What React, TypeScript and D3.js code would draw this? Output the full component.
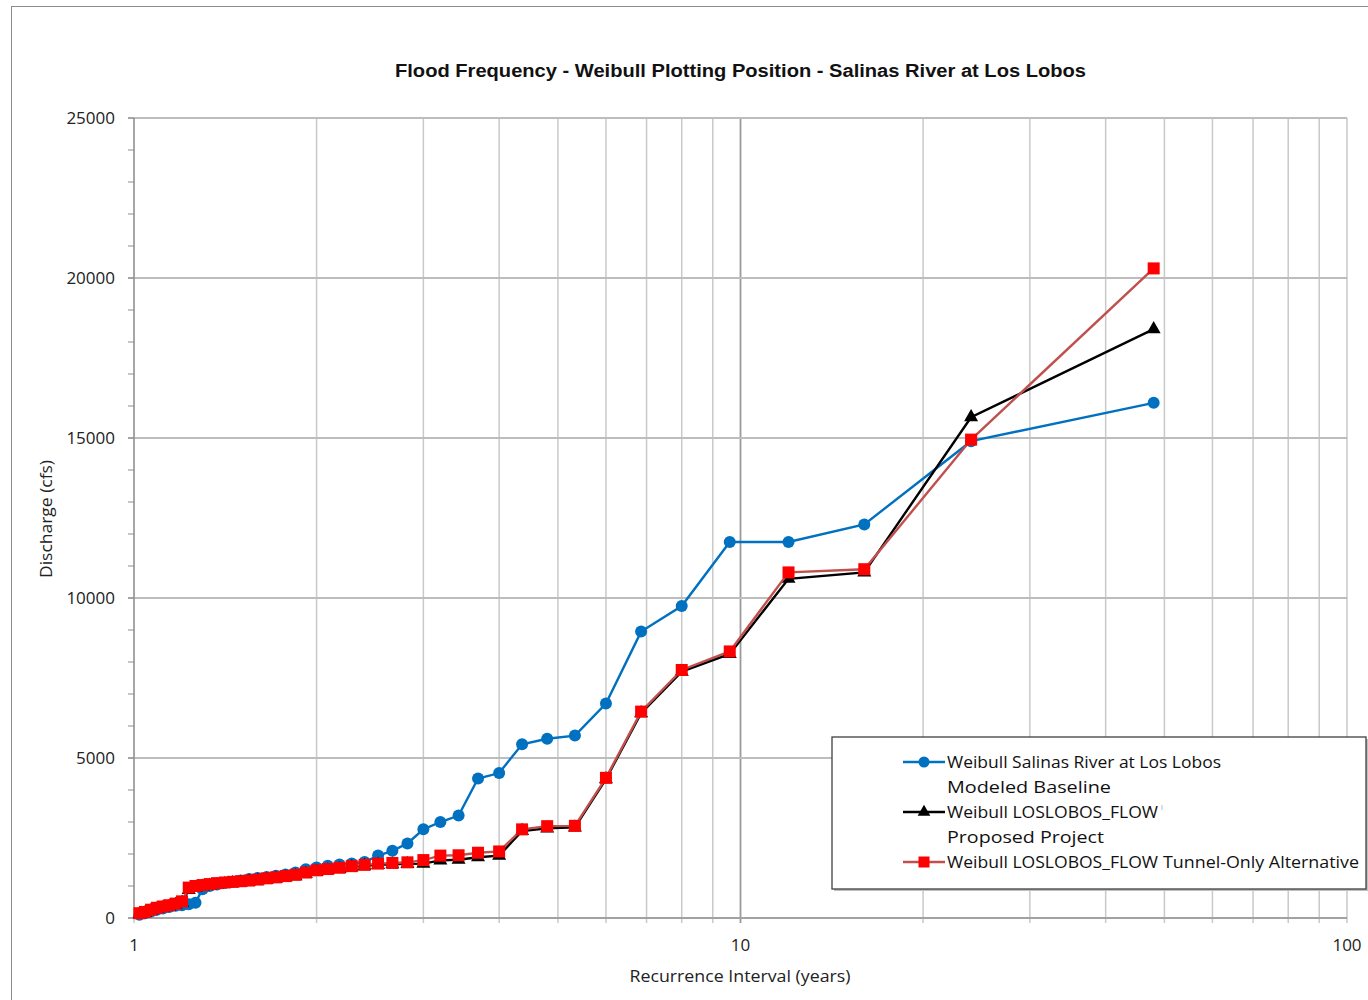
import React from "react";
import * as d3 from "d3";

// Weibull return periods (n = 47 years): T = 48 / rank
const returnPeriods = [
  48, 24, 16, 12, 9.6, 8, 6.857, 6, 5.333, 4.8, 4.364, 4, 3.692, 3.429, 3.2, 3,
  2.824, 2.667, 2.526, 2.4, 2.286, 2.182, 2.087, 2, 1.92, 1.846, 1.778, 1.714,
  1.655, 1.6, 1.548, 1.5, 1.455, 1.412, 1.371, 1.333, 1.297, 1.263, 1.231, 1.2,
  1.171, 1.143, 1.116, 1.091, 1.067, 1.043, 1.021,
];

const baseline = [
  16100, 14900, 12300, 11750, 11750, 9750, 8950, 6700, 5700, 5600, 5430, 4530,
  4360, 3200, 3000, 2770, 2330, 2100, 1950, 1750, 1700, 1670, 1630, 1580, 1520,
  1420, 1360, 1320, 1280, 1250, 1220, 1170, 1130, 1090, 1050, 1000, 900, 480,
  430, 400, 380, 340, 300, 260, 200, 150, 100,
];

const proposed = [
  18400, 15650, 10800, 10600, 8250, 7700, 6400, 4340, 2830, 2800, 2720, 1950,
  1900, 1820, 1800, 1700, 1690, 1680, 1660, 1630, 1590, 1530, 1490, 1440, 1380,
  1310, 1270, 1230, 1200, 1170, 1140, 1110, 1090, 1070, 1040, 1010, 980, 940,
  880, 480, 410, 360, 320, 280, 230, 160, 120,
];

const tunnelOnly = [
  20300, 14950, 10900, 10800, 8330, 7750, 6450, 4380, 2880, 2870, 2770, 2080,
  2040, 1960, 1950, 1810, 1740, 1720, 1700, 1660, 1620, 1570, 1530, 1490, 1420,
  1350, 1310, 1270, 1240, 1200, 1170, 1150, 1130, 1110, 1090, 1060, 1030, 1000,
  950, 520, 450, 400, 360, 320, 260, 190, 150,
];

const yTicks = [0, 5000, 10000, 15000, 20000, 25000];
const xTickLabels = [1, 10, 100];

const W = 1368;
const H = 1000;
const L = 134, R = 1347, T = 118, B = 918;

export default function App() {
  const x = d3.scaleLog().domain([1, 100]).range([L, R]);
  const y = d3.scaleLinear().domain([0, 25000]).range([B, T]);

  const minorX: number[] = [];
  for (let d = 1; d < 100; d *= 10) for (let k = 1; k < 10; k++) minorX.push(d * k);
  minorX.push(100);
  const minorY = d3.range(0, 25001, 1000);

  const line = d3
    .line<number>()
    .x((_, i) => x(returnPeriods[i]))
    .y((v) => y(v));

  const tri = d3.symbol().type(d3.symbolTriangle).size(85)() as string;
  const triSmall = d3.symbol().type(d3.symbolTriangle).size(70)() as string;

  const font = "'Open Sans', 'Noto Sans', sans-serif";

  return (
    <svg width={W} height={H} style={{ position: "absolute", left: 0, top: 0, background: "#fff" }}>
      <rect x={0} y={0} width={W} height={H} fill="#fff" />
      <rect x={11.5} y={6.5} width={1400} height={1100} fill="none" stroke="#8c8c8c" strokeWidth={1} />

      {/* vertical gridlines */}
      {minorX.map((v) => (
        <line
          key={"gx" + v}
          x1={x(v)}
          x2={x(v)}
          y1={T}
          y2={B + 5}
          stroke={v === 10 ? "#9a9a9a" : "#c9c9c9"}
          strokeWidth={v === 10 ? 1.8 : 1.5}
        />
      ))}
      {/* horizontal gridlines */}
      {yTicks.map((v) => (
        <line key={"gy" + v} x1={L - 6} x2={R} y1={y(v)} y2={y(v)} stroke="#bdbdbd" strokeWidth={1.8} />
      ))}
      {/* y minor ticks */}
      {minorY.map((v) => (
        <line key={"my" + v} x1={L - 6} x2={L} y1={y(v)} y2={y(v)} stroke="#8c8c8c" strokeWidth={1} />
      ))}
      {/* axes */}
      <line x1={L} x2={L} y1={T} y2={B} stroke="#8c8c8c" strokeWidth={1.3} />
      <line x1={L} x2={R} y1={B} y2={B} stroke="#9a9a9a" strokeWidth={1.6} />

      {/* y tick labels */}
      {yTicks.map((v) => (
        <text key={"yl" + v} x={115} y={y(v)} dy="0.35em" textAnchor="end" fontFamily={font} fontSize={17} fill="#222">
          {v}
        </text>
      ))}
      {/* x tick labels */}
      {xTickLabels.map((v) => (
        <text key={"xl" + v} x={x(v)} y={945} dy="0.35em" textAnchor="middle" fontFamily={font} fontSize={17} fill="#222">
          {v}
        </text>
      ))}

      {/* titles */}
      <text x={740.5} y={71} dy="0.35em" textAnchor="middle" fontFamily="'Liberation Sans', Arial, sans-serif" fontWeight="bold" fontSize={18} textLength={691} lengthAdjust="spacingAndGlyphs" fill="#111">
        Flood Frequency - Weibull Plotting Position - Salinas River at Los Lobos
      </text>
      <text x={740} y={976} dy="0.35em" textAnchor="middle" fontFamily={font} fontSize={16} textLength={221} lengthAdjust="spacingAndGlyphs" fill="#222">
        Recurrence Interval (years)
      </text>
      <text transform="translate(46,519) rotate(-90)" dy="0.35em" textAnchor="middle" fontFamily={font} fontSize={16} textLength={118} lengthAdjust="spacingAndGlyphs" fill="#222">
        Discharge (cfs)
      </text>

      {/* series: baseline */}
      <path d={line(baseline) || ""} fill="none" stroke="#0070C0" strokeWidth={2.4} />
      {baseline.map((v, i) => (
        <circle key={"b" + i} cx={x(returnPeriods[i])} cy={y(v)} r={6} fill="#0070C0" />
      ))}
      {/* proposed */}
      <path d={line(proposed) || ""} fill="none" stroke="#000" strokeWidth={2.4} />
      {proposed.map((v, i) => (
        <path key={"p" + i} d={tri} transform={`translate(${x(returnPeriods[i])},${y(v)})`} fill="#000" />
      ))}
      {/* tunnel only */}
      <path d={line(tunnelOnly) || ""} fill="none" stroke="#C0504D" strokeWidth={2.4} />
      {tunnelOnly.map((v, i) => (
        <rect key={"t" + i} x={x(returnPeriods[i]) - 6} y={y(v) - 6} width={12} height={12} fill="#FF0000" />
      ))}

      {/* legend */}
      <rect x={834} y={739} width={534} height={152} fill="#bfbfbf" />
      <rect x={832} y={737} width={534} height={152} fill="#fff" stroke="#404040" strokeWidth={1.3} />
      <line x1={903} x2={945} y1={762} y2={762} stroke="#0070C0" strokeWidth={2.4} />
      <circle cx={924} cy={762} r={5.5} fill="#0070C0" />
      <text x={947} y={762} dy="0.35em" fontFamily={font} fontSize={17} textLength={274} lengthAdjust="spacingAndGlyphs" fill="#111">
        Weibull Salinas River at Los Lobos
      </text>
      <text x={947} y={787} dy="0.35em" fontFamily={font} fontSize={17} textLength={164} lengthAdjust="spacingAndGlyphs" fill="#111">
        Modeled Baseline
      </text>
      <line x1={903} x2={945} y1={812} y2={812} stroke="#000" strokeWidth={2.4} />
      <path d={triSmall} transform="translate(924,812)" fill="#000" />
      <text x={947} y={812} dy="0.35em" fontFamily={font} fontSize={17} textLength={211} lengthAdjust="spacingAndGlyphs" fill="#111">
        Weibull LOSLOBOS_FLOW
      </text>
      <line x1={1162} x2={1162} y1={805} y2={810} stroke="#bbb" strokeWidth={1} />
      <text x={947} y={837} dy="0.35em" fontFamily={font} fontSize={17} textLength={157} lengthAdjust="spacingAndGlyphs" fill="#111">
        Proposed Project
      </text>
      <line x1={903} x2={945} y1={862} y2={862} stroke="#C0504D" strokeWidth={2.4} />
      <rect x={918.5} y={856.5} width={11} height={11} fill="#FF0000" />
      <text x={947} y={862} dy="0.35em" fontFamily={font} fontSize={17} textLength={211} lengthAdjust="spacingAndGlyphs" fill="#111">
        Weibull LOSLOBOS_FLOW
      </text>
      <text x={1163} y={862} dy="0.35em" fontFamily={font} fontSize={16} textLength={196} lengthAdjust="spacingAndGlyphs" fill="#111">
        Tunnel-Only Alternative
      </text>
    </svg>
  );
}
